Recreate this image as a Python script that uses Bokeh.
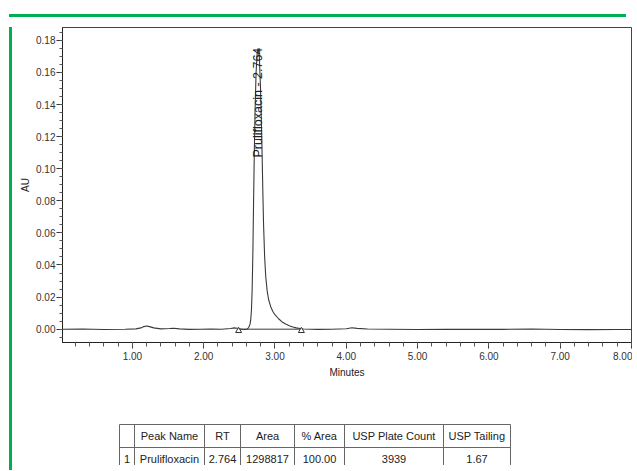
from math import pi
from bokeh.plotting import figure
from bokeh.layouts import column, row
from bokeh.models import Range1d, NumeralTickFormatter, SingleIntervalTicker, Div, Spacer
from bokeh.core.properties import value
from bokeh.embed import file_html
from bokeh.resources import INLINE

# ---- chromatogram trace (minutes, AU) ----
time_min = [0.02, 0.30, 0.60, 0.90, 1.05, 1.12, 1.16, 1.20, 1.24, 1.30, 1.40, 1.52, 1.58, 1.66, 1.80,
            1.95, 2.10, 2.25, 2.38, 2.43, 2.47, 2.52, 2.57, 2.61, 2.63, 2.65, 2.66, 2.67, 2.68, 2.69,
            2.70, 2.71, 2.72, 2.735, 2.75, 2.764, 2.78, 2.795, 2.81, 2.82, 2.83, 2.84, 2.855, 2.87,
            2.89, 2.91, 2.94, 2.97, 3.00, 3.05, 3.10, 3.15, 3.20, 3.25, 3.30, 3.35, 3.40, 3.60,
            3.80, 4.00, 4.08, 4.15, 4.30, 4.60, 5.00, 5.40, 5.80, 6.20, 6.60, 7.00, 7.40, 7.80, 8.00]
absorbance_au = [0.0000, 0.0001, -0.0002, 0.0000, 0.0002, 0.0008, 0.0016, 0.0020, 0.0016, 0.0008, 0.0002, 0.0004, 0.0006, 0.0002, -0.0001,
                 0.0000, 0.0001, 0.0000, 0.0004, 0.0008, 0.0006, 0.0001, -0.0002, 0.0001, 0.0010, 0.0030, 0.0060, 0.0120, 0.0250, 0.0480,
                 0.0800, 0.1100, 0.1350, 0.1600, 0.1720, 0.1750, 0.1700, 0.1530, 0.1280, 0.1080, 0.0850, 0.0650, 0.0450, 0.0330,
                 0.0240, 0.0185, 0.0140, 0.0110, 0.0090, 0.0065, 0.0045, 0.0032, 0.0022, 0.0014, 0.0008, 0.0004, 0.0001, -0.0001,
                 0.0000, 0.0003, 0.0009, 0.0005, 0.0001, 0.0000, -0.0002, -0.0001, 0.0000, -0.0001, 0.0001, -0.0002, -0.0003, -0.0002, -0.0002]

# ---- peak annotation ----
peak_rt = [2.764]
peak_label_au = [0.107]
peak_label = ["Prulifloxacin - 2.764"]

# ---- integration baseline (start / end markers) ----
baseline_t = [2.49, 3.37]
baseline_au = [0.0, 0.0]
baseline_marker_au = [-0.0010, -0.0010]

# ---- results table ----
table_headers = ["", "Peak Name", "RT", "Area", "% Area", "USP Plate Count", "USP Tailing"]
table_row = ["1", "Prulifloxacin", "2.764", "1298817", "100.00", "3939", "1.67"]

GREEN = "#00b050"
FONT = "Liberation Sans"

# ================= chart =================
p = figure(width=615, height=363, x_range=Range1d(0.02, 8.0), y_range=Range1d(-0.0083, 0.188),
           output_backend="svg", toolbar_location=None,
           min_border_left=42, min_border_right=1, min_border_top=5, min_border_bottom=43)
p.background_fill_color = "white"
p.border_fill_color = "white"
p.outline_line_color = "#444444"
p.outline_line_width = 1
p.xgrid.visible = False
p.ygrid.visible = False

p.line(time_min, absorbance_au, line_color="#3a3a3a", line_width=1.1)
p.line(baseline_t, baseline_au, line_color="#3a3a3a", line_width=1)
p.scatter(baseline_t, baseline_marker_au, marker="triangle", size=6, fill_color="white",
          line_color="#333333", line_width=1)
p.text(x=peak_rt, y=peak_label_au, text=peak_label, angle=pi / 2, text_align="left",
       text_baseline="middle", text_font=value(FONT), text_font_size="12.5px",
       text_color="#222222")

for ax in (p.xaxis[0], p.yaxis[0]):
    ax.axis_line_color = "#222222"
    ax.major_tick_line_color = "#333333"
    ax.minor_tick_line_color = "#555555"
    ax.major_tick_in = 0
    ax.minor_tick_in = 0
    ax.major_label_text_font = FONT
    ax.major_label_text_font_size = "10px"
    ax.major_label_text_color = "#333333"
    ax.axis_label_text_font = FONT
    ax.axis_label_text_font_size = "10px"
    ax.axis_label_text_font_style = "normal"
    ax.axis_label_text_color = "#222222"
    ax.formatter = NumeralTickFormatter(format="0.00")

p.xaxis.ticker = SingleIntervalTicker(interval=1, num_minor_ticks=5)
p.yaxis.ticker = SingleIntervalTicker(interval=0.02, num_minor_ticks=4)
p.xaxis.major_tick_out = 6
p.xaxis.minor_tick_out = 4
p.yaxis.major_tick_out = 6
p.yaxis.minor_tick_out = 3
p.xaxis.major_label_standoff = 3
p.yaxis.major_label_standoff = 1
p.xaxis.axis_label = "Minutes"
p.yaxis.axis_label = "AU"
p.xaxis.axis_label_standoff = 4
p.yaxis.axis_label_standoff = 2

# ================= results table =================
# the column layout aligns this figure's frame with the chart frame, so its x range
# is expressed in page pixels spanning the chart frame (59 .. 628)
t = figure(width=615, height=80, x_range=Range1d(59, 628), y_range=Range1d(463, 383),
           output_backend="svg", toolbar_location=None,
           min_border_left=0, min_border_right=0, min_border_top=0, min_border_bottom=0)
t.axis.visible = False
t.xgrid.visible = False
t.ygrid.visible = False
t.outline_line_color = None
t.background_fill_color = "white"
t.border_fill_color = "white"

col_edges = [116, 131, 201, 237, 291, 341, 440, 507]
row_edges = [422, 445, 468]
t.segment(x0=[col_edges[0]] * len(row_edges), x1=[col_edges[-1]] * len(row_edges),
          y0=row_edges, y1=row_edges, line_color="#666666", line_width=1)
t.segment(x0=col_edges, x1=col_edges, y0=[row_edges[0]] * len(col_edges),
          y1=[row_edges[-1]] * len(col_edges), line_color="#666666", line_width=1)

cx, cy, ctext = [], [], []
for r, cells in enumerate([table_headers, table_row]):
    for c, txt in enumerate(cells):
        if txt:
            cx.append((col_edges[c] + col_edges[c + 1]) / 2)
            cy.append((row_edges[r] + row_edges[r + 1]) / 2)
            ctext.append(txt)
t.text(x=cx, y=cy, text=ctext, text_align="center", text_baseline="middle",
       text_font=value(FONT), text_font_size="11px", text_color="#222222")

# ================= green frame + layout =================
layout = column(
    Spacer(width=621, height=9),
    row(Spacer(width=4, height=3), Div(width=617, height=3, styles={"background-color": GREEN})),
    row(Spacer(width=4, height=443), Div(width=3, height=443, styles={"background-color": GREEN}),
        column(p, t)),
)

open("out.html", "w").write(file_html(layout, INLINE))
